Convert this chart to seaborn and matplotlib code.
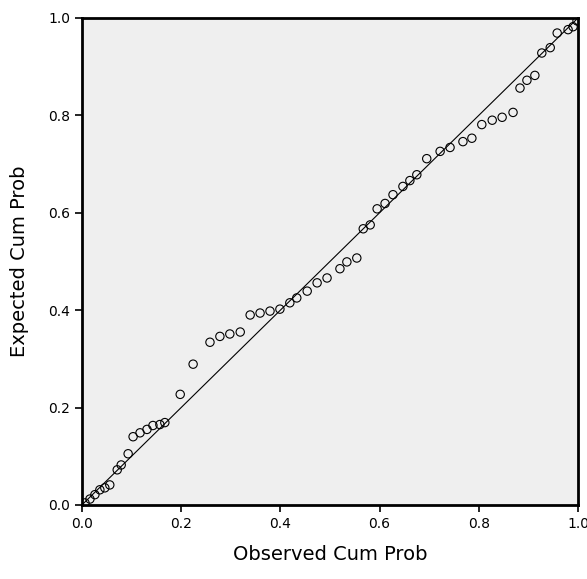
import matplotlib
matplotlib.use("Agg")
import matplotlib.pyplot as plt
import seaborn as sns
import pandas as pd

# Normal P-P plot values
observed_cum_prob = [0.006, 0.016, 0.026, 0.036, 0.046, 0.056, 0.071, 0.079, 0.093,
                     0.103, 0.117, 0.131, 0.143, 0.157, 0.167, 0.198, 0.224, 0.258,
                     0.278, 0.298, 0.319, 0.339, 0.359, 0.379, 0.399, 0.419, 0.433,
                     0.454, 0.474, 0.494, 0.520, 0.534, 0.554, 0.567, 0.581, 0.595,
                     0.611, 0.627, 0.647, 0.661, 0.675, 0.695, 0.722, 0.742, 0.768,
                     0.786, 0.806, 0.827, 0.847, 0.869, 0.883, 0.897, 0.913, 0.927,
                     0.944, 0.958, 0.980, 0.990, 0.998]
expected_cum_prob = [0.004, 0.012, 0.021, 0.031, 0.035, 0.041, 0.072, 0.082, 0.105,
                     0.140, 0.148, 0.155, 0.163, 0.165, 0.169, 0.227, 0.289, 0.334,
                     0.346, 0.351, 0.355, 0.390, 0.394, 0.398, 0.402, 0.415, 0.425,
                     0.439, 0.456, 0.466, 0.485, 0.499, 0.507, 0.567, 0.575, 0.608,
                     0.619, 0.637, 0.654, 0.666, 0.678, 0.711, 0.726, 0.734, 0.746,
                     0.753, 0.781, 0.790, 0.796, 0.806, 0.856, 0.872, 0.882, 0.928,
                     0.939, 0.969, 0.976, 0.982, 0.994]
tick_values = [0.0, 0.2, 0.4, 0.6, 0.8, 1.0]
tick_labels = ["0.0", "0.2", "0.4", "0.6", "0.8", "1.0"]

df = pd.DataFrame({"Observed Cum Prob": observed_cum_prob,
                   "Expected Cum Prob": expected_cum_prob})

sns.set_style("white")
plt.rcParams["font.family"] = ["DejaVu Sans"]

fig = plt.figure(figsize=(5.87, 5.79), dpi=100)
ax = fig.add_axes([0.1397, 0.128, 0.845, 0.841])
ax.set_facecolor("#efefef")

# reference diagonal
ax.plot([tick_values[0], tick_values[-1]], [tick_values[0], tick_values[-1]],
        color="black", linewidth=0.8, zorder=1)

sns.scatterplot(data=df, x="Observed Cum Prob", y="Expected Cum Prob", ax=ax,
                marker="o", s=36, facecolor="none", edgecolor="black",
                linewidth=0.8, zorder=2)

ax.set_xlim(0, 1)
ax.set_ylim(0, 1)
ax.set_xticks(tick_values)
ax.set_xticklabels(tick_labels)
ax.set_yticks(tick_values)
ax.set_yticklabels(tick_labels)
ax.tick_params(axis="both", direction="out", length=5, width=1.2,
               labelsize=10, colors="black", bottom=True, left=True)

for side in ax.spines.values():
    side.set_color("black")
    side.set_linewidth(2)

ax.set_xlabel("Observed Cum Prob", fontsize=14, labelpad=10, color="black")
ax.set_ylabel("Expected Cum Prob", fontsize=14, labelpad=14, color="black")

fig.savefig("out.png", dpi=100)
